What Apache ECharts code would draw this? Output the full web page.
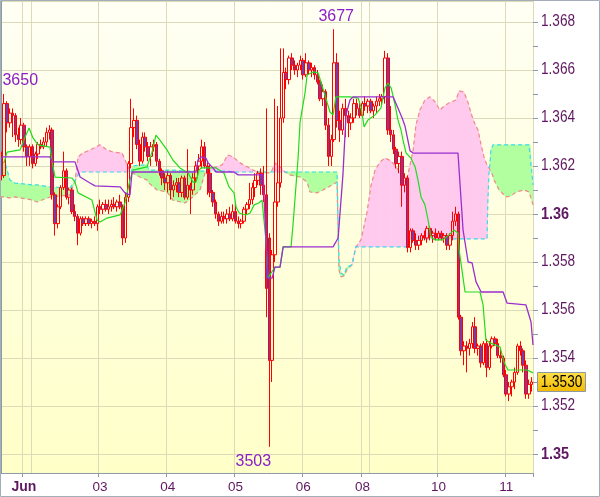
<!DOCTYPE html>
<html><head><meta charset="utf-8">
<script src="https://cdn.jsdelivr.net/npm/echarts@6.0.0/dist/echarts.min.js"></script>
<style>html,body{margin:0;padding:0;background:#fff}#c{width:600px;height:497px}</style>
</head><body><div id="c"></div>
<script>
// ---- hourly quotes (last four digits of 1.xxxx) ----
const opens = [
3624,3616,3646,3638,3642,3641,3633,3631,3637,3628,
3624,3628,3621,3625,3629,3628,3630,3634,3635,3608,
3596,3603,3611,3618,3607,3610,3601,3599,3592,3598,
3596,3598,3596,3597,3596,3603,3602,3604,3602,3603,
3604,3603,3605,3603,3590,3607,3621,3636,3639,3629,
3622,3632,3628,3624,3628,3629,3622,3618,3615,3613,
3616,3610,3612,3613,3609,3615,3607,3612,3610,3615,
3620,3622,3628,3620,3617,3609,3605,3600,3597,3599,
3598,3600,3598,3601,3597,3596,3597,3602,3604,3606,
3611,3614,3617,3612,3608,3590,3539,3583,3605,3613,
3640,3659,3656,3665,3662,3660,3662,3664,3658,3663,
3660,3661,3658,3655,3648,3651,3637,3624,3631,3663,
3639,3635,3644,3641,3638,3640,3646,3644,3641,3646,
3645,3647,3643,3645,3647,3648,3649,3665,3635,3633,
3627,3621,3624,3612,3615,3586,3593,3589,3587,3589,
3591,3590,3594,3591,3592,3590,3592,3590,3591,3587,
3591,3597,3600,3557,3543,3545,3544,3546,3553,3544,
3545,3538,3546,3536,3545,3548,3546,3541,3540,3533,
3525,3528,3530,3534,3545,3543,3537,3525,3529];
const highs = [
3626,3650,3647,3644,3644,3642,3636,3640,3638,3629,
3629,3629,3626,3630,3631,3632,3636,3637,3636,3609,
3604,3612,3626,3619,3611,3611,3604,3600,3599,3599,
3599,3599,3598,3599,3604,3606,3605,3606,3606,3606,
3607,3606,3608,3604,3609,3622,3648,3644,3641,3631,
3634,3634,3630,3630,3631,3630,3623,3619,3617,3618,
3617,3614,3615,3615,3616,3616,3627,3613,3617,3622,
3625,3631,3630,3622,3621,3610,3606,3601,3601,3601,
3602,3603,3604,3605,3599,3598,3603,3605,3613,3613,
3617,3618,3619,3620,3644,3592,3585,3648,3645,3669,
3669,3661,3666,3667,3664,3663,3666,3665,3667,3664,
3663,3662,3660,3656,3654,3652,3640,3633,3677,3667,
3643,3646,3648,3643,3642,3648,3648,3647,3647,3649,
3648,3648,3646,3649,3650,3650,3668,3667,3645,3635,
3628,3626,3626,3617,3616,3594,3594,3592,3591,3592,
3593,3595,3595,3593,3594,3593,3593,3592,3592,3592,
3601,3603,3601,3558,3547,3547,3548,3555,3557,3546,
3546,3547,3548,3547,3549,3549,3548,3544,3541,3535,
3530,3531,3536,3546,3547,3544,3539,3531,3532];
const lows = [
3614,3615,3634,3636,3632,3630,3628,3629,3626,3620,
3620,3619,3620,3623,3627,3627,3628,3631,3606,3591,
3594,3602,3610,3606,3604,3600,3597,3587,3591,3595,
3595,3595,3594,3595,3593,3600,3600,3601,3600,3601,
3602,3601,3602,3587,3588,3605,3619,3632,3627,3620,
3621,3626,3622,3620,3626,3620,3616,3612,3610,3609,
3606,3607,3609,3607,3607,3606,3606,3600,3608,3613,
3618,3619,3619,3608,3607,3603,3598,3595,3596,3596,
3596,3597,3597,3596,3594,3594,3596,3600,3602,3604,
3607,3612,3608,3605,3557,3503,3530,3580,3603,3611,
3638,3652,3654,3660,3658,3657,3660,3656,3657,3658,
3657,3656,3654,3647,3645,3635,3620,3620,3630,3636,
3630,3633,3632,3632,3635,3638,3641,3640,3640,3643,
3642,3642,3640,3642,3645,3645,3646,3633,3630,3625,
3619,3617,3603,3609,3584,3584,3588,3585,3585,3587,
3589,3588,3589,3588,3589,3589,3589,3588,3585,3585,
3589,3595,3556,3541,3537,3534,3541,3544,3542,3541,
3536,3537,3532,3535,3544,3545,3540,3538,3532,3524,
3522,3524,3527,3533,3541,3534,3523,3523,3526];
const closes = [
3616,3646,3638,3642,3641,3633,3631,3637,3628,3624,
3628,3621,3625,3629,3628,3630,3634,3635,3608,3596,
3603,3611,3618,3607,3610,3601,3599,3592,3598,3596,
3598,3596,3597,3596,3603,3602,3604,3602,3603,3604,
3603,3605,3603,3590,3607,3621,3636,3639,3629,3622,
3632,3628,3624,3628,3629,3622,3618,3615,3613,3616,
3610,3612,3613,3609,3615,3607,3612,3610,3615,3620,
3622,3628,3620,3617,3609,3605,3600,3597,3599,3598,
3600,3598,3601,3597,3596,3597,3602,3604,3606,3611,
3614,3617,3612,3608,3569,3539,3583,3605,3613,3640,
3659,3656,3665,3662,3660,3662,3664,3658,3663,3660,
3661,3658,3655,3648,3651,3637,3624,3631,3663,3639,
3635,3644,3641,3638,3640,3646,3644,3641,3646,3645,
3647,3643,3645,3647,3648,3649,3665,3635,3633,3627,
3621,3624,3612,3615,3586,3593,3589,3587,3589,3591,
3590,3594,3591,3592,3590,3592,3590,3591,3587,3591,
3597,3600,3557,3543,3545,3544,3546,3553,3544,3545,
3538,3546,3536,3545,3548,3546,3541,3540,3533,3525,
3528,3530,3534,3545,3543,3537,3525,3529,3530];

// ---- Tenkan-sen (green), vertices: bar position, quote ----
const tenkanX = [0.9,2.0,6.6,8.4,9.8,11.2,13.0,17.2,17.9,19.0,
25.0,26.1,27.2,32.1,33.9,35.0,37.4,42.1,43.8,45.6,
46.7,51.6,53.4,54.8,56.2,58.7,60.8,63.3,66.2,67.9,
69.0,70.1,70.8,76.1,78.9,80.7,82.5,83.2,84.3,86.7,
88.2,89.6,91.3,92.4,93.8,94.5,97.0,98.8,99.9,102.7,
103.4,105.2,105.9,107.7,108.4,110.5,112.3,113.3,114.7,116.5,
117.6,118.6,123.6,126.5,127.5,128.6,130.0,132.5,134.6,136.0,
137.1,138.2,139.6,140.6,141.7,142.4,143.5,145.2,146.7,147.7,
148.8,150.2,151.3,152.3,153.8,156.6,158.7,160.5,161.9,162.3,
163.3,164.4,169.7,170.8,171.8,173.3,176.8,178.2,179.6,186.4,
188.5];
const tenkanV = [3621.3,3625.8,3626.7,3632.1,3635.8,3631.7,3628.8,3627.9,3622.5,3615.4,
3615.0,3613.3,3608.8,3605.8,3597.5,3596.7,3598.3,3599.6,3604.6,3614.2,
3618.3,3619.6,3625.8,3632.9,3630.8,3626.7,3622.5,3619.2,3617.1,3613.3,
3613.3,3618.3,3619.2,3619.2,3617.1,3611.3,3608.8,3602.9,3600.4,3599.6,
3600.4,3603.8,3604.6,3605.8,3589.2,3573.3,3577.9,3577.9,3586.3,3586.3,
3595.4,3623.3,3638.3,3650.8,3657.9,3659.2,3658.8,3655.0,3649.6,3642.5,
3641.3,3648.8,3648.8,3648.3,3644.6,3636.3,3639.2,3641.3,3644.2,3652.5,
3654.6,3652.5,3645.4,3639.2,3635.0,3630.8,3625.4,3623.3,3619.6,3614.2,
3607.1,3603.8,3597.5,3590.4,3589.2,3589.2,3591.3,3593.3,3592.1,3585.0,
3576.7,3567.5,3567.5,3562.1,3547.5,3546.3,3544.6,3538.3,3535.0,3535.0,
3533.8];

// ---- Kijun-sen (purple) ----
const kijunX = [0.2,17.2,18.0,26.1,27.9,31.4,33.2,42.1,43.8,45.6,
46.3,69.0,69.7,70.8,72.5,73.3,75.0,76.1,82.5,83.9,
92.8,93.8,94.5,96.0,97.0,98.8,99.9,117.6,119.4,121.1,
122.2,123.6,124.7,138.9,140.6,142.1,143.1,144.9,146.0,161.9,
163.7,165.5,166.9,168.3,170.1,177.9,179.3,180.0,186.0,187.8,
188.5];
const kijunV = [3623.8,3623.8,3621.7,3621.7,3615.4,3612.9,3611.7,3611.3,3608.8,3607.9,
3617.5,3617.5,3622.5,3623.8,3623.3,3621.3,3619.2,3617.5,3617.5,3616.3,
3616.3,3589.2,3573.3,3573.3,3577.9,3577.9,3586.3,3586.3,3590.0,3616.3,
3641.3,3647.5,3648.8,3648.8,3644.2,3640.0,3636.7,3626.3,3625.4,3625.4,
3593.3,3580.0,3579.6,3571.7,3567.5,3567.5,3562.9,3562.1,3562.1,3555.0,
3545.4];

// ---- Cloud: Senkou span A (pink dashed) and span B (cyan dashed) ----
const cloudX = [-0.5,1.3,3.0,4.8,11.2,12.6,17.2,24.3,26.1,27.2,
27.9,28.9,31.4,35.0,37.4,39.6,42.8,44.9,46.0,46.7,
49.1,51.6,52.3,55.2,58.7,60.8,65.1,67.9,70.4,72.2,
72.9,75.0,78.2,80.3,82.1,84.6,89.2,91.0,95.2,96.0,
97.0,98.8,100.6,102.3,105.9,108.4,109.4,111.9,114.0,117.2,
119.0,119.7,120.4,121.5,122.5,124.3,125.7,127.5,128.9,129.6,
131.1,132.5,134.3,136.0,138.2,139.9,141.3,142.4,143.8,144.2,
144.9,146.0,147.0,148.4,150.2,152.0,153.8,155.5,156.6,158.7,
161.2,162.3,164.0,165.5,166.5,167.6,169.0,170.1,171.1,172.2,
172.5,172.9,173.3,173.6,174.3,174.7,176.5,178.9,180.7,182.5,
185.3,187.1,187.4,188.5];
const spanA = [3607.1,3607.1,3606.7,3607.1,3605.8,3605.0,3607.1,3607.9,3613.8,3623.8,
3624.6,3625.4,3626.7,3628.8,3626.7,3625.8,3625.4,3619.6,3617.5,3616.7,
3615.4,3614.2,3612.9,3610.0,3609.2,3605.8,3604.6,3607.1,3610.0,3617.1,
3618.3,3619.2,3620.4,3624.6,3623.8,3621.3,3618.3,3617.5,3617.1,3618.3,
3621.3,3619.6,3617.5,3616.3,3615.4,3613.3,3609.2,3608.8,3610.0,3612.1,
3613.3,3576.7,3573.8,3574.2,3576.7,3578.8,3586.3,3589.2,3596.7,3600.4,
3612.1,3618.3,3621.7,3623.3,3622.1,3619.6,3617.5,3613.3,3615.0,3615.8,
3620.4,3626.7,3637.1,3643.3,3647.5,3648.8,3646.7,3643.3,3644.6,3646.3,
3647.5,3651.3,3650.8,3646.3,3642.1,3638.3,3635.0,3628.8,3623.8,3620.4,
3620.0,3619.2,3618.3,3617.5,3615.8,3614.2,3610.0,3607.1,3607.5,3609.2,
3610.0,3609.2,3608.8,3603.8];
const spanB = [3621.7,3621.3,3614.2,3612.9,3612.1,3612.1,3611.3,3610.8,3613.8,3616.3,
3617.5,3617.5,3617.5,3617.5,3617.5,3617.5,3617.5,3617.5,3617.5,3620.0,
3620.4,3620.4,3618.3,3618.3,3618.3,3618.3,3617.9,3617.9,3617.9,3617.9,
3617.9,3617.9,3617.9,3617.9,3617.5,3617.5,3617.5,3617.5,3617.5,3617.5,
3617.5,3617.5,3617.5,3617.5,3617.5,3617.5,3617.5,3617.5,3617.5,3617.5,
3617.5,3580.8,3575.4,3574.6,3577.9,3578.8,3586.3,3586.3,3586.3,3586.3,
3586.3,3586.3,3586.3,3586.3,3586.3,3586.3,3586.3,3586.3,3586.3,3589.6,
3589.6,3589.6,3589.6,3589.6,3589.6,3589.6,3589.6,3589.6,3589.6,3589.6,
3589.6,3589.6,3589.6,3589.6,3589.6,3589.6,3589.6,3589.6,3589.6,3589.6,
3605.8,3617.1,3621.9,3626.7,3628.8,3628.8,3628.8,3628.8,3628.8,3628.8,
3628.8,3628.8,3628.8,3612.1];

// ---- axis ticks / labels ----
const dayTickIdx = [8,35,59,83,107,128,155,179];
const dayTickText = ['Jun','03','04','05','06','08','10','11'];
const weekLineIdx = [11,131];
const yLabelVals = [1.350,1.352,1.354,1.356,1.358,1.360,1.362,1.364,1.366,1.368];
const yTickVals = [1.350,1.351,1.352,1.353,1.354,1.355,1.356,1.357,1.358,1.359,1.360,
  1.361,1.362,1.363,1.364,1.365,1.366,1.367,1.368];
const yMin = 1.349208, yMax = 1.368875;
// extremes annotated on the chart
const annIdx = [1,118,95];
const annVal = [3650,3677,3503];

// ---- build ----
const N = closes.length;
const q = v => +(1 + v / 10000).toFixed(5);
const cats = closes.map((_, i) => String(i));
const candleData = opens.map((o, i) => [q(o), q(closes[i]), q(lows[i]), q(highs[i])]);
const pairs = (xs, vs) => xs.map((x, i) => [x, q(vs[i])]);
const cloudSegs = [];
for (let i = 0; i < cloudX.length - 1; i++) {
  cloudSegs.push([cloudX[i], cloudX[i + 1], q(spanA[i]), q(spanA[i + 1]), q(spanB[i]), q(spanB[i + 1])]);
}

const AX = '#8e9aa6';
const GRIDC = '#dddab9';
const LBL = '#5e1760';
const PINK = '#ffcaee', GREEN = '#b2ffa0';
const YFONT = 'Liberation Sans';
const NARROW_SCALE = 0.85;

function renderCloud(params, api) {
  const x0 = api.value(0), x1 = api.value(1);
  const a0 = api.value(2), a1 = api.value(3), b0 = api.value(4), b1 = api.value(5);
  const d0 = a0 - b0, d1 = a1 - b1;
  const poly = (pts, col) => ({type: 'polygon', shape: {points: pts.map(p => api.coord(p))},
    style: {fill: col, stroke: col, lineWidth: 0.6}});
  if (d0 * d1 < 0) {
    const t = d0 / (d0 - d1);
    const xc = x0 + (x1 - x0) * t, yc = a0 + (a1 - a0) * t;
    return {type: 'group', children: [
      poly([[x0, a0], [xc, yc], [x0, b0]], d0 > 0 ? PINK : GREEN),
      poly([[xc, yc], [x1, a1], [x1, b1]], d1 > 0 ? PINK : GREEN)]};
  }
  return poly([[x0, a0], [x1, a1], [x1, b1], [x0, b0]], (d0 + d1) >= 0 ? PINK : GREEN);
}

const chart = echarts.init(document.getElementById('c'), null, {renderer: 'canvas'});
const option = {
  animation: false,
  backgroundColor: '#ffffff',
  grid: {
    left: 0, right: 67, top: 1, bottom: 24, show: true, borderWidth: 0,
    backgroundColor: new echarts.graphic.LinearGradient(0, 0, 0, 1, [
      {offset: 0, color: '#fffff4'}, {offset: 1, color: '#ffffc8'}])
  },
  xAxis: [{
    type: 'category', data: cats, boundaryGap: true,
    axisLine: {lineStyle: {color: AX, width: 1}},
    axisTick: {show: true, length: 4, interval: (i) => dayTickIdx.includes(i), lineStyle: {color: AX}},
    axisLabel: {
      interval: (i) => dayTickIdx.includes(i), margin: 7,
      formatter: (v) => { const k = dayTickIdx.indexOf(Number(v)); const t = dayTickText[k];
        return k === 0 ? '{b|' + t + '}' : '{a|' + t + '}'; },
      rich: {a: {color: LBL, fontSize: 13.5, fontFamily: 'Liberation Sans'},
             b: {color: LBL, fontSize: 14, fontWeight: 'bold', fontFamily: 'Liberation Sans'}}
    },
    splitLine: {show: true, interval: (i) => dayTickIdx.includes(i) || weekLineIdx.includes(i),
      lineStyle: {color: GRIDC, width: 1}}
  }, {
    type: 'value', min: -0.5, max: N - 0.5, show: false
  }],
  yAxis: [{
    type: 'value', position: 'right', min: yMin, max: yMax, scale: true,
    splitNumber: 10, minInterval: 0.002, maxInterval: 0.002,
    axisLine: {show: true, lineStyle: {color: AX}},
    axisTick: {show: false},
    axisLabel: {show: false},
    splitLine: {show: true, lineStyle: {color: GRIDC, width: 1}}
  }, {
    type: 'value', position: 'right', min: yMin, max: yMax, scale: true,
    axisLine: {show: false}, axisLabel: {show: false}, splitLine: {show: false},
    axisTick: {show: true, length: 5, customValues: yTickVals, lineStyle: {color: AX}}
  }],
  series: [
    {name: 'cloud', type: 'custom', xAxisIndex: 1, yAxisIndex: 0, data: cloudSegs, silent: true, z: 1,
     clip: true, encode: {x: [0, 1], y: [2, 3, 4, 5]}, renderItem: renderCloud},
    {name: 'spanA', type: 'line', xAxisIndex: 1, yAxisIndex: 0, data: pairs(cloudX, spanA),
     symbol: 'none', silent: true, lineStyle: {color: '#f08a8a', width: 1.2, type: [4, 3]}, z: 2},
    {name: 'spanB', type: 'line', xAxisIndex: 1, yAxisIndex: 0, data: pairs(cloudX, spanB),
     symbol: 'none', silent: true, lineStyle: {color: '#38dcec', width: 1.2, type: [4, 3]}, z: 2},
    {name: 'price', type: 'candlestick', xAxisIndex: 0, yAxisIndex: 0, data: candleData, barWidth: 3,
     silent: true, z: 3,
     itemStyle: {color: 'rgba(255,255,255,0)', color0: '#7b3aa8', borderColor: '#ff0000', borderColor0: '#ff0000', borderWidth: 1},
     markPoint: {
       symbol: 'circle', symbolSize: 0, silent: true,
       label: {show: true, formatter: '{c}', color: '#8a1fc8', fontSize: 16, fontFamily: 'Liberation Sans'},
       data: [
         {coord: [annIdx[0], q(annVal[0])], value: annVal[0], label: {position: 'top', distance: 5, offset: [16, 0]}},
         {coord: [annIdx[1], q(annVal[1])], value: annVal[1], label: {position: 'top', distance: 5, offset: [2, 0]}},
         {coord: [annIdx[2], q(annVal[2])], value: annVal[2], label: {position: 'bottom', distance: 7, offset: [-16, 0]}}
       ]
     }},
    {name: 'tenkan', type: 'line', xAxisIndex: 1, yAxisIndex: 0, data: pairs(tenkanX, tenkanV),
     symbol: 'none', silent: true, lineStyle: {color: '#1edc1e', width: 1.2}, z: 4},
    {name: 'kijun', type: 'line', xAxisIndex: 1, yAxisIndex: 0, data: pairs(kijunX, kijunV),
     symbol: 'none', silent: true, lineStyle: {color: '#9a2ed0', width: 1.3}, z: 5}
  ]
};
chart.setOption(option);

// price-axis labels (narrow face), placed through the axis scale
const yLabelEls = yLabelVals.map(v => {
  const major = Math.round(v * 1000) % 10 === 0;
  return {type: 'text', silent: true, z: 50, x: 541, y: chart.convertToPixel({yAxisIndex: 0}, v),
    scaleX: NARROW_SCALE, originX: 0, originY: 0,
    style: {text: major ? v.toFixed(2) : v.toFixed(3), x: 0, y: 0, align: 'left', verticalAlign: 'middle',
      fill: LBL, fontSize: major ? 17 : 16, fontWeight: major ? 'bold' : 'normal', fontFamily: YFONT}};
});

const last = q(closes[N - 1]);
const py = Math.round(chart.convertToPixel({yAxisIndex: 0}, last));
chart.setOption({
  graphic: yLabelEls.concat([
    {type: 'rect', silent: true, z: 100, shape: {x: 537.5, y: py - 9.5, width: 48, height: 19},
     style: {fill: new echarts.graphic.LinearGradient(0, 0, 0, 1, [
       {offset: 0, color: '#ffe24a'}, {offset: 1, color: '#f2b800'}]), stroke: '#8c98a4', lineWidth: 1}},
    {type: 'text', silent: true, z: 101, x: 561.5, y: py + 0.5, scaleX: NARROW_SCALE, originX: 0, originY: 0,
     style: {text: last.toFixed(4), x: 0, y: 0, align: 'center', verticalAlign: 'middle', fill: '#000',
      fontSize: 16, fontFamily: YFONT}},
    {type: 'rect', silent: true, z: 102, shape: {x: 0.5, y: 0.5, width: 599, height: 496},
     style: {fill: null, stroke: '#a3aeb9', lineWidth: 1}}
  ])
});
</script></body></html>
